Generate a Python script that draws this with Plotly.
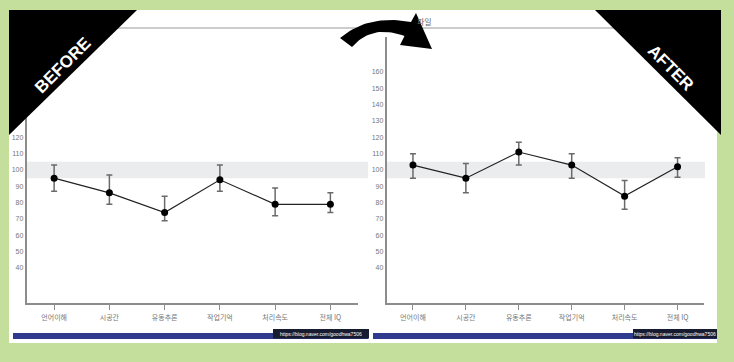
import plotly.graph_objects as go

W, H = 734, 362

categories = ["언어이해", "시공간", "유동추론", "작업기억", "처리속도", "전체 IQ"]
before_vals = [95, 86, 74, 94, 79, 79]
before_hi = [103, 97, 84, 103, 89, 86]
before_lo = [87, 79, 69, 87, 72, 74]
after_vals = [103, 95, 111, 103, 84, 102]
after_hi = [110, 104, 117, 110, 93.5, 107.5]
after_lo = [95, 86, 103, 95, 76, 95.5]
y_ticks_before = [40, 50, 60, 70, 80, 90, 100, 110, 120]
y_ticks_after = [40, 50, 60, 70, 80, 90, 100, 110, 120, 130, 140, 150, 160]
band = [95, 105]
watermark = "https://blog.naver.com/goodhwa7506"

GREEN = "rgb(196,222,156)"
AXIS = "#8c8c8c"


def px(x):
    return x / W


def py(y):
    return 1 - y / H


def qbez(p0, c, p1, n=24):
    pts = []
    for i in range(n + 1):
        t = i / n
        a, b, d = (1 - t) ** 2, 2 * (1 - t) * t, t ** 2
        pts.append((a * p0[0] + b * c[0] + d * p1[0], a * p0[1] + b * c[1] + d * p1[1]))
    return pts


fig = go.Figure()
xs = list(range(len(categories)))

for vals, hi, lo, xa, ya in [
    (before_vals, before_hi, before_lo, "x", "y"),
    (after_vals, after_hi, after_lo, "x2", "y2"),
]:
    fig.add_trace(go.Scatter(
        x=xs, y=vals, xaxis=xa, yaxis=ya, mode="lines+markers",
        line=dict(color="#222", width=1.2),
        marker=dict(color="black", size=7),
        error_y=dict(type="data", symmetric=False,
                     array=[h - v for h, v in zip(hi, vals)],
                     arrayminus=[v - l for v, l in zip(vals, lo)],
                     color="#6a6a6a", thickness=1.5, width=3),
        showlegend=False, hoverinfo="skip",
    ))

# overlay decorations (pixel space) drawn in a top subplot
tri_left = [(9, 10), (137, 10), (9, 135), (9, 10)]
tri_right = [(595, 10), (721, 10), (721, 135), (595, 10)]
arrow = (qbez((340, 38), (368, 14), (411, 22))
         + [(416, 13), (432, 49), (400, 45)]
         + qbez((404.5, 36), (372, 24), (352, 47)) + [(340, 38)])
for poly in (tri_left, tri_right, arrow):
    fig.add_trace(go.Scatter(
        x=[p[0] for p in poly], y=[p[1] for p in poly], xaxis="x3", yaxis="y3",
        mode="lines", fill="toself", fillcolor="black", line=dict(width=0, color="black"),
        showlegend=False, hoverinfo="skip",
    ))

ydom = [py(303), py(37)]
yrange = [18.6, 181.4]
common_x = dict(range=[-0.5, 5.5], tickvals=xs, ticktext=categories,
                showline=True, linecolor=AXIS, linewidth=1.5,
                ticks="outside", ticklen=5, tickwidth=1, tickcolor=AXIS,
                ticklabelstandoff=2,
                showgrid=False, zeroline=False, fixedrange=True,
                tickfont=dict(family="Noto Sans CJK KR", size=7, color="#777"))
common_y = dict(range=yrange, domain=ydom,
                showline=True, linecolor=AXIS, linewidth=1.5,
                ticks="", showgrid=False, zeroline=False, fixedrange=True,
                tickfont=dict(family="Liberation Sans", size=7, color="#777"))

shapes = []
shapes.append(dict(type="rect", xref="paper", yref="paper",
                   x0=px(9), x1=px(717), y0=py(343), y1=py(10),
                   fillcolor="white", line=dict(width=0), layer="below"))
for x0, x1, yr in [(26.5, 368, "y"), (386.5, 705, "y2")]:
    shapes.append(dict(type="rect", xref="paper", yref=yr,
                       x0=px(x0), x1=px(x1), y0=band[0], y1=band[1],
                       fillcolor="rgb(235,236,238)", line=dict(width=0), layer="below"))
for x0, x1 in [(9, 368), (372, 717)]:
    shapes.append(dict(type="line", xref="paper", yref="paper",
                       x0=px(x0), x1=px(x1), y0=py(28), y1=py(28),
                       line=dict(color="#999", width=1), layer="below"))
for x0, x1 in [(13, 368), (373, 717)]:
    shapes.append(dict(type="rect", xref="paper", yref="paper",
                       x0=px(x0), x1=px(x1), y0=py(339), y1=py(333),
                       fillcolor="rgb(46,59,142)", line=dict(width=0), layer="above"))
for x0, x1 in [(273, 369), (633, 717)]:
    shapes.append(dict(type="rect", xref="paper", yref="paper",
                       x0=px(x0), x1=px(x1), y0=py(338.5), y1=py(329),
                       fillcolor="rgb(24,28,48)", line=dict(width=0), layer="above"))

ann_common = dict(xref="paper", yref="paper", showarrow=False,
                  xanchor="center", yanchor="middle")
annotations = [
    dict(text="<b>BEFORE</b>", x=px(63), y=py(66), textangle=-45,
         font=dict(family="Liberation Sans", size=17, color="white"), **ann_common),
    dict(text="<b>AFTER</b>", x=px(670), y=py(68), textangle=45,
         font=dict(family="Liberation Sans", size=17, color="white"), **ann_common),
    dict(text="파일", x=px(424), y=py(22),
         font=dict(family="Noto Sans CJK KR", size=8, color="#666"), **ann_common),
    dict(text=watermark, x=px(321), y=py(334),
         font=dict(family="Liberation Sans", size=5, color="white"), **ann_common),
    dict(text=watermark, x=px(675), y=py(334),
         font=dict(family="Liberation Sans", size=5, color="white"), **ann_common),
]

fig.update_layout(
    width=W, height=H, margin=dict(l=0, r=0, t=0, b=0),
    paper_bgcolor=GREEN, plot_bgcolor="rgba(0,0,0,0)",
    xaxis=dict(domain=[px(26.5), px(358)], anchor="y", **common_x),
    yaxis=dict(anchor="x", tickvals=y_ticks_before, **common_y),
    xaxis2=dict(domain=[px(386.5), px(704)], anchor="y2", **common_x),
    yaxis2=dict(anchor="x2", tickvals=y_ticks_after, **common_y),
    xaxis3=dict(domain=[0, 1], range=[0, W], visible=False, fixedrange=True, anchor="y3"),
    yaxis3=dict(domain=[0, 1], range=[H, 0], visible=False, fixedrange=True, anchor="x3"),
    shapes=shapes, annotations=annotations,
)

fig.write_html("out.html", config={"displayModeBar": False},
               post_script="document.body.style.margin='0px';")
